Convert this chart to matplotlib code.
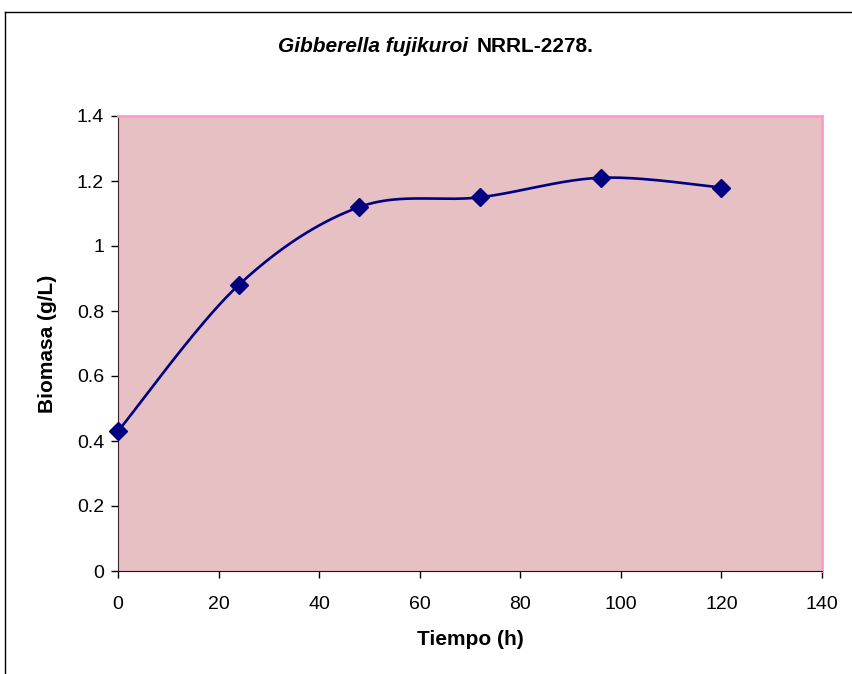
import numpy as np
import matplotlib
matplotlib.use("Agg")
import matplotlib.pyplot as plt
from matplotlib.lines import Line2D

tiempo = [0, 24, 48, 72, 96, 120]
biomasa = [0.43, 0.88, 1.12, 1.15, 1.21, 1.18]
xticks = [0, 20, 40, 60, 80, 100, 120, 140]
yticks = [0, 0.2, 0.4, 0.6, 0.8, 1.0, 1.2, 1.4]
ytick_labels = ["0", "0.2", "0.4", "0.6", "0.8", "1", "1.2", "1.4"]

plt.rcParams['font.family'] = ['Liberation Sans', 'DejaVu Sans']

fig = plt.figure(figsize=(8.52, 6.74), dpi=100)
ax = fig.add_axes([118/852, 1-571/674, (822-118)/852, (571-116)/674])

# Excel-style smoothed line (Catmull-Rom Bezier)
def smooth(xs, ys, n=40):
    P = np.column_stack([xs, ys]).astype(float)
    out = []
    for i in range(len(P)-1):
        p0 = P[max(i-1, 0)]
        p1 = P[i]
        p2 = P[i+1]
        p3 = P[min(i+2, len(P)-1)]
        c1 = p1 + (p2 - p0) / 6
        c2 = p2 - (p3 - p1) / 6
        t = np.linspace(0, 1, n)[:, None]
        seg = (1-t)**3*p1 + 3*(1-t)**2*t*c1 + 3*(1-t)*t**2*c2 + t**3*p2
        out.append(seg if i == 0 else seg[1:])
    s = np.vstack(out)
    return s[:, 0], s[:, 1]

sx, sy = smooth(tiempo, biomasa)
ax.set_facecolor('#E7C0C4')
ax.plot(sx, sy, color='#000080', lw=1.9, zorder=3, clip_on=False)
ax.plot(tiempo, biomasa, linestyle='none', marker='D', markersize=9.5,
        color='#000080', zorder=4, clip_on=False)

ax.set_xlim(0, 140)
ax.set_ylim(0, 1.4)
ax.set_xticks(xticks)
ax.set_yticks(yticks)
ax.set_yticklabels(ytick_labels)
ax.tick_params(axis='both', labelsize=14, length=5, width=1, direction='out')
ax.tick_params(axis='x', pad=13)
ax.tick_params(axis='y', pad=5)

for s in ['top', 'right']:
    ax.spines[s].set_color('#FF99CC')
    ax.spines[s].set_linewidth(2)
ax.spines['left'].set_color('#402030')
ax.spines['bottom'].set_color('#201018')

ax.set_xlabel('Tiempo (h)', fontsize=15, fontweight='bold', labelpad=12)
ax.set_ylabel('Biomasa (g/L)', fontsize=15, fontweight='bold', labelpad=14)

fig.text(278/852, 1-47/674, 'Gibberella fujikuroi', ha='left', va='center',
         fontsize=15, fontweight='bold', fontstyle='italic')
fig.text(594/852, 1-47/674, 'NRRL-2278.', ha='right', va='center',
         fontsize=15, fontweight='bold')

# outer frame lines (top and left)
fig.add_artist(Line2D([5/852, 1], [1-12/674, 1-12/674], color='black', lw=1, transform=fig.transFigure))
fig.add_artist(Line2D([5/852, 5/852], [0, 1-12/674], color='black', lw=1, transform=fig.transFigure))

fig.savefig('out.png', dpi=100)
